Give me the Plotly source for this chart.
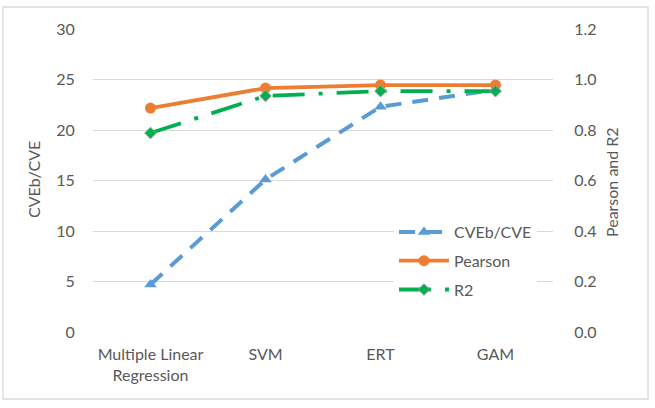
import plotly.graph_objects as go

categories = ["Multiple Linear<br>Regression", "SVM", "ERT", "GAM"]
cveb_cve = [4.7, 15.1, 22.3, 24.0]
pearson = [0.887, 0.966, 0.978, 0.978]
r2 = [0.788, 0.935, 0.954, 0.954]

left_ticks = [0, 5, 10, 15, 20, 25, 30]
right_ticks = [0.0, 0.2, 0.4, 0.6, 0.8, 1.0, 1.2]

FONT = "Lato"
GRAY = "#595959"
FS = 16
W, H = 655, 408
L, R, T, B = 93, 102, 29, 76
pw = W - L - R
ph = H - T - B

def px2x(px):
    return (px - L) / pw

def px2y(py):
    return (H - B - py) / ph

fig = go.Figure()
fig.add_trace(go.Scatter(
    x=categories, y=cveb_cve, name="CVEb/CVE", mode="lines+markers",
    line=dict(color="#5B9BD5", width=4, dash="16px,11px"),
    marker=dict(symbol="triangle-up", size=11, color="#5B9BD5"),
    legendgroup="a", yaxis="y"))
fig.add_trace(go.Scatter(
    x=categories, y=pearson, name="Pearson", mode="lines+markers",
    line=dict(color="#ED7D31", width=3.8),
    marker=dict(symbol="circle", size=11, color="#ED7D31"),
    legendgroup="b", yaxis="y2"))
fig.add_trace(go.Scatter(
    x=categories, y=r2, name="R2", mode="lines+markers",
    line=dict(color="#00B050", width=3.8, dash="32px,14px,4px,14px"),
    marker=dict(symbol="diamond", size=9, color="#00B050",
                line=dict(color="#A0A0A0", width=1)),
    legendgroup="c", yaxis="y2"))

fig.update_layout(
    width=W, height=H,
    margin=dict(l=L, r=R, t=T, b=B),
    paper_bgcolor="white", plot_bgcolor="white",
    font=dict(family=FONT, size=FS, color=GRAY),
    xaxis=dict(range=[-0.5, 3.5], showgrid=False, showline=False, zeroline=False,
               ticks="outside", ticklen=8, tickcolor="rgba(0,0,0,0)",
               tickfont=dict(size=FS, color=GRAY)),
    yaxis=dict(range=[0, 30], tickvals=left_ticks, showgrid=True,
               gridcolor="#D9D9D9", gridwidth=1.3, zeroline=False, showline=False,
               ticks="outside", ticklen=14, tickcolor="rgba(0,0,0,0)",
               tickfont=dict(size=FS, color=GRAY)),
    yaxis2=dict(range=[0, 1.2], tickvals=right_ticks, tickformat=".1f",
                overlaying="y", side="right", showgrid=False, zeroline=False,
                showline=False, ticks="outside", ticklen=17,
                tickcolor="rgba(0,0,0,0)", tickfont=dict(size=FS, color=GRAY)),
    showlegend=True,
    legend=dict(x=px2x(394), y=px2y(215), xanchor="left", yanchor="top",
                bgcolor="white", font=dict(size=FS, color=GRAY),
                itemwidth=50, traceorder="grouped", tracegroupgap=5),
    shapes=[dict(type="rect", xref="paper", yref="paper",
                 x0=px2x(3), x1=px2x(648), y0=px2y(399), y1=px2y(7),
                 line=dict(color="#D9D9D9", width=1.3), layer="below")],
    annotations=[
        dict(text="CVEb/CVE", xref="paper", yref="paper", x=px2x(33), y=px2y(180),
             showarrow=False, textangle=-90, font=dict(size=16, color=GRAY),
             xanchor="center", yanchor="middle"),
        dict(text="Pearson and R2", xref="paper", yref="paper", x=px2x(611), y=px2y(182),
             showarrow=False, textangle=-90, font=dict(size=16, color=GRAY),
             xanchor="center", yanchor="middle"),
    ],
)

fig.write_html("out.html")
